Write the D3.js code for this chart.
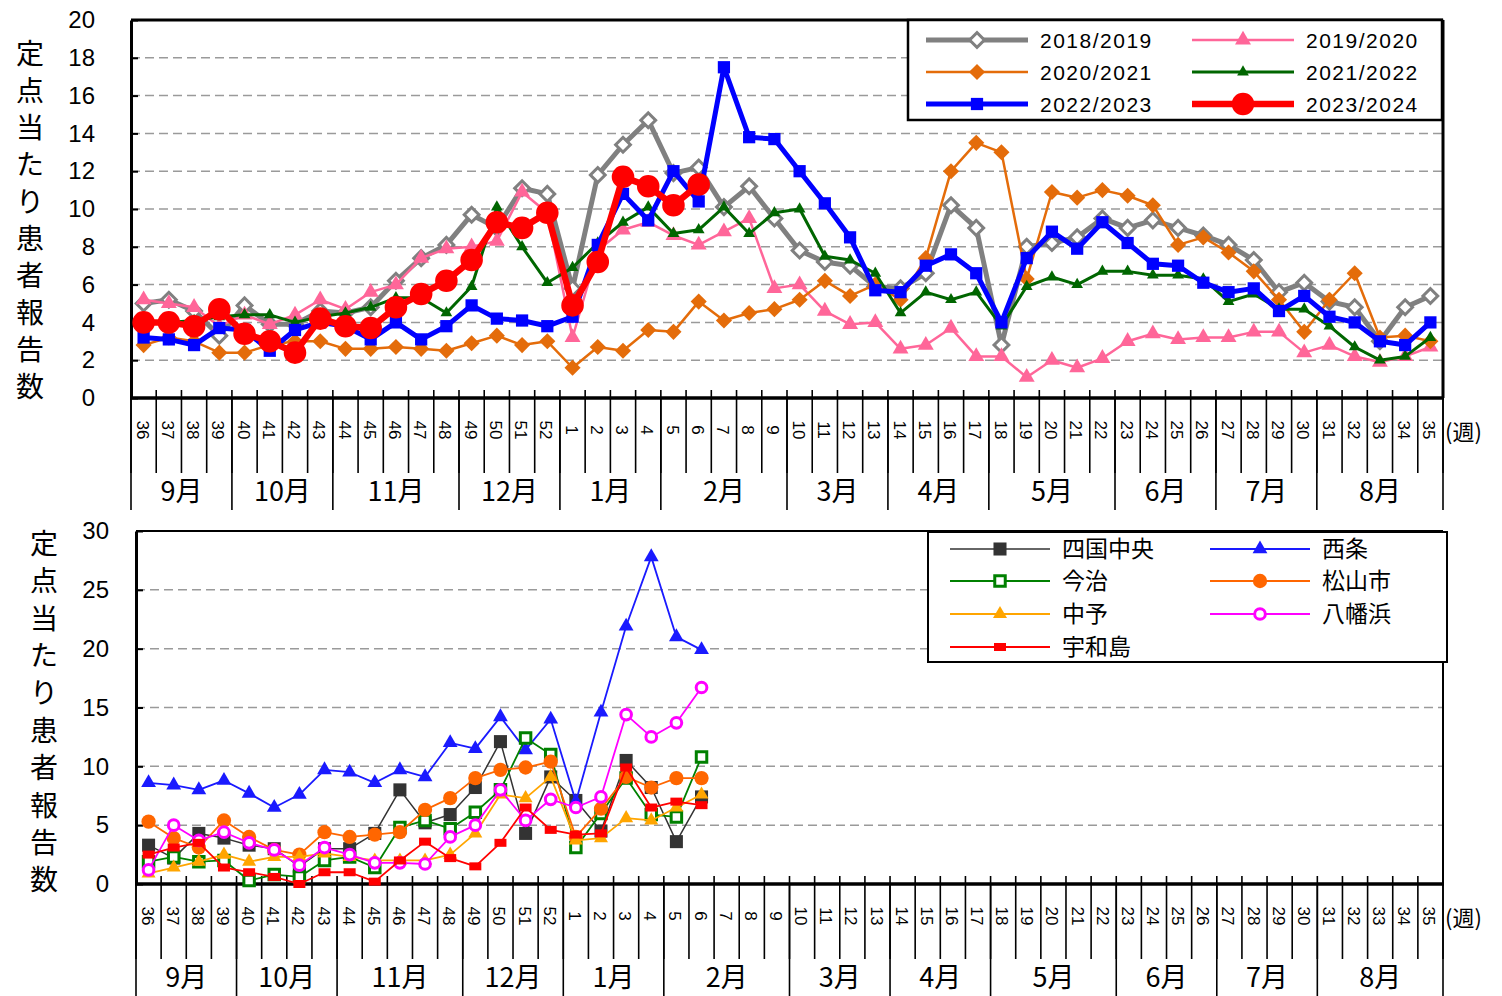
<!DOCTYPE html>
<html>
<head>
<meta charset="utf-8">
<title>定点当たり患者報告数</title>
<script src="https://cdnjs.cloudflare.com/ajax/libs/d3/7.8.5/d3.min.js"></script>
<style>
  body { margin: 0; background: #fff; }
  text { font-family: "Noto Sans CJK JP", "Noto Sans", sans-serif; fill: #000; }
</style>
</head>
<body>
<svg id="chart" width="1502" height="996"></svg>
<script>

// week categories of a season (36th week to 35th week of next year)
var weeks = [36,37,38,39,40,41,42,43,44,45,46,47,48,49,50,51,52,
             1,2,3,4,5,6,7,8,9,10,11,12,13,14,15,16,17,18,19,20,
             21,22,23,24,25,26,27,28,29,30,31,32,33,34,35];
var months = ['9月','10月','11月','12月','1月','2月','3月','4月','5月','6月','7月','8月'];
var monthWeeks = [4,4,5,4,4,5,4,4,5,4,4,5];

// upper chart : prefecture, by season
var seasons = ['2018/2019','2019/2020','2020/2021','2021/2022','2022/2023','2023/2024'];
var s2018 = [5.0,5.2,4.6,3.3,4.9,3.9,3.9,4.6,4.5,4.8,6.2,7.4,8.1,9.7,9.0,11.1,10.8,5.8,11.8,13.4,14.7,11.9,12.2,10.1,11.2,9.5,7.8,7.2,7.0,5.9,5.8,6.6,10.2,9.0,2.8,8.0,8.2,8.5,9.5,9.0,9.4,9.0,8.6,8.1,7.3,5.6,6.1,5.1,4.8,3.0,4.8,5.4];
var s2019 = [5.2,5.0,4.8,3.8,4.4,3.9,4.4,5.2,4.7,5.6,6.0,7.4,7.9,8.0,8.3,10.9,9.8,3.2,7.8,8.9,9.3,8.6,8.1,8.8,9.5,5.8,6.0,4.6,3.9,4.0,2.6,2.8,3.7,2.2,2.2,1.1,2.0,1.6,2.1,3.0,3.4,3.1,3.2,3.2,3.5,3.5,2.4,2.8,2.2,1.9,2.2,2.7];
var s2020 = [2.8,3.2,3.0,2.4,2.4,2.8,3.0,3.0,2.6,2.6,2.7,2.6,2.5,2.9,3.3,2.8,3.0,1.6,2.7,2.5,3.6,3.5,5.1,4.1,4.5,4.7,5.2,6.2,5.4,6.0,5.2,7.4,12.0,13.5,13.0,6.3,10.9,10.6,11.0,10.7,10.2,8.1,8.5,7.7,6.7,5.2,3.5,5.2,6.6,3.2,3.3,3.0];
var s2021 = [3.9,4.0,4.1,4.3,4.4,4.4,4.0,4.3,4.5,4.8,5.3,5.3,4.5,5.9,10.1,8.0,6.1,6.9,8.2,9.3,10.1,8.7,8.9,10.1,8.7,9.8,10.0,7.5,7.3,6.6,4.5,5.6,5.2,5.6,3.8,5.9,6.4,6.0,6.7,6.7,6.5,6.5,6.3,5.1,5.5,4.7,4.7,3.8,2.7,2.0,2.2,3.2];
var s2022 = [3.2,3.1,2.8,3.7,3.6,2.5,3.6,4.0,3.8,3.1,4.0,3.1,3.8,4.9,4.2,4.1,3.8,4.3,8.1,10.8,9.4,12.0,10.4,17.5,13.8,13.7,12.0,10.3,8.5,5.7,5.6,7.0,7.6,6.6,4.0,7.4,8.8,7.9,9.3,8.2,7.1,7.0,6.1,5.6,5.8,4.6,5.4,4.3,4.0,3.0,2.8,4.0];
var s2023 = [4.0,4.0,3.8,4.7,3.4,3.0,2.4,4.2,3.8,3.7,4.8,5.5,6.2,7.3,9.3,9.0,9.8,4.9,7.2,11.7,11.2,10.2,11.3];

// lower chart : health centre areas, current season
var areas = ['四国中央','西条','今治','松山市','中予','八幡浜','宇和島'];
var shikokuchuo = [3.3,2.2,4.3,3.9,3.3,3.0,1.5,3.0,3.0,4.3,8.0,5.2,5.9,8.2,12.1,4.3,9.1,7.1,4.5,10.5,8.2,3.6,7.4];
var saijo       = [8.6,8.4,8.0,8.8,7.7,6.5,7.6,9.7,9.5,8.6,9.7,9.1,12.0,11.5,14.2,11.4,14.0,7.0,14.6,21.9,27.8,21.0,19.9];
var imabari     = [1.9,2.3,1.9,2.0,0.3,0.8,0.6,2.0,2.3,1.4,4.8,5.4,4.7,6.1,8.0,12.4,11.0,3.1,6.0,9.0,5.9,5.7,10.8];
var matsuyama   = [5.3,3.9,3.1,5.4,4.0,2.9,2.5,4.4,4.0,4.2,4.4,6.3,7.3,9.0,9.7,9.9,10.4,4.0,6.4,9.1,8.2,9.0,9.0];
var chuyo       = [0.9,1.4,1.9,2.5,1.9,2.3,2.3,2.6,2.3,2.0,2.0,2.0,2.5,4.3,7.6,7.3,9.1,3.7,3.9,5.6,5.4,6.5,7.6];
var yawatahama  = [1.2,5.0,3.7,4.4,3.5,2.9,1.6,3.1,2.5,1.8,1.8,1.7,4.0,5.0,8.0,5.4,7.2,6.5,7.4,14.4,12.5,13.7,16.7];
var uwajima     = [2.5,3.1,3.5,1.4,1.0,0.6,0.0,1.0,1.0,0.2,2.0,3.6,2.2,1.5,3.5,6.5,4.6,4.2,4.3,9.9,6.5,7.0,6.7];

var yTitle = '定点当たり患者報告数';

var svg = d3.select('#chart');

// marker styles
var topStyles = [
  {color:'#808080', width:5,   mark:'diamond',  size:110, fill:'#fff', sw:3},
  {color:'#FF6699', width:2.5, mark:'triangle', size:110, fill:null},
  {color:'#E46C0A', width:2.5, mark:'diamond',  size:130, fill:null},
  {color:'#006600', width:3,   mark:'triangle', size:60,  fill:null},
  {color:'#0000FF', width:5,   mark:'square',   size:150, fill:null},
  {color:'#FF0000', width:6.5, mark:'circle',   size:400, fill:null}
];
var bottomStyles = [
  {color:'#333333', width:1.5, mark:'square',   size:170, fill:null},
  {color:'#1A1AFF', width:1.8, mark:'triangle', size:95,  fill:null},
  {color:'#008000', width:1.8, mark:'square',   size:110, fill:'#fff', sw:3},
  {color:'#FF6600', width:1.8, mark:'circle',   size:160, fill:null},
  {color:'#FFA500', width:1.8, mark:'triangle', size:85,  fill:null},
  {color:'#FF00FF', width:1.8, mark:'circle',   size:90,  fill:'#fff', sw:3},
  {color:'#FF0000', width:1.8, mark:'rect',     size:0,   fill:null}
];

function marker(g, st, x, y) {
  if (st.mark === 'rect') {
    g.append('rect').attr('x', x - 6).attr('y', y - 4).attr('width', 12).attr('height', 8)
      .attr('fill', st.color);
    return;
  }
  var type = {circle: d3.symbolCircle, square: d3.symbolSquare,
              diamond: d3.symbolSquare, triangle: d3.symbolTriangle}[st.mark];
  var rot = st.mark === 'diamond' ? ' rotate(45)' : '';
  g.append('path')
    .attr('d', d3.symbol().type(type).size(st.size)())
    .attr('transform', 'translate(' + x + ',' + y + ')' + rot)
    .attr('fill', st.fill || st.color)
    .attr('stroke', st.color)
    .attr('stroke-width', st.sw || 0);
}

function drawPanel(p) {
  var g = svg.append('g');
  var x = d3.scaleBand().domain(weeks).range([p.left, p.right]);
  var cx = function(i) { return x(weeks[i]) + x.bandwidth() / 2; };
  var y = d3.scaleLinear().domain([0, p.yMax]).range([p.bottom, p.top]);

  // dashed grid
  g.selectAll('line.grid')
    .data(d3.range(p.yStep, p.yMax, p.yStep))
    .enter().append('line')
      .attr('x1', p.left).attr('x2', p.right)
      .attr('y1', function(d) { return y(d); }).attr('y2', function(d) { return y(d); })
      .attr('stroke', '#9a9a9a').attr('stroke-width', 1.5)
      .attr('stroke-dasharray', '9,5');

  // frame top / right
  g.append('line').attr('x1', p.left).attr('x2', p.right).attr('y1', p.top).attr('y2', p.top)
    .attr('stroke', '#000').attr('stroke-width', p.frame);
  g.append('line').attr('x1', p.right).attr('x2', p.right).attr('y1', p.top).attr('y2', p.bottom)
    .attr('stroke', '#000').attr('stroke-width', p.frame);

  // y axis
  var yAxis = g.append('g')
    .attr('transform', 'translate(' + p.left + ',0)')
    .call(d3.axisLeft(y).tickValues(d3.range(0, p.yMax + 0.01, p.yStep))
      .tickSizeInner(-7).tickSizeOuter(0).tickPadding(p.labelPad));
  yAxis.select('.domain').attr('stroke-width', 3);
  yAxis.selectAll('.tick line').attr('stroke-width', 2);
  yAxis.selectAll('.tick text').attr('font-size', 24)
    .style('font-family', '"Liberation Sans", sans-serif');

  // x axis line
  g.append('line').attr('x1', p.left - 1).attr('x2', p.right + 1)
    .attr('y1', p.bottom).attr('y2', p.bottom)
    .attr('stroke', '#000').attr('stroke-width', 3.5);

  // week ticks (band boundaries)
  var bounds = weeks.map(function(w) { return x(w); }).concat([p.right]);
  g.selectAll('line.wk').data(bounds).enter().append('line')
    .attr('x1', function(d) { return d; }).attr('x2', function(d) { return d; })
    .attr('y1', p.bottom - 8).attr('y2', p.bottom + 75)
    .attr('stroke', '#000').attr('stroke-width', 1.6);

  // week labels
  g.selectAll('text.wk').data(weeks).enter().append('text')
    .attr('transform', function(d, i) { return 'translate(' + (cx(i) - 1) + ',' + (p.bottom + 32) + ') rotate(90)'; })
    .attr('text-anchor', 'middle').attr('dy', '0.35em')
    .attr('font-size', 17)
    .style('font-family', '"Liberation Sans", sans-serif')
    .text(function(d) { return d; });
  g.append('text').attr('x', p.right + 2).attr('y', p.bottom + 42)
    .attr('font-size', 22).text('(週)');

  // month separators and labels
  var mb = [0];
  monthWeeks.forEach(function(n) { mb.push(mb[mb.length - 1] + n); });
  var mx = function(k) { return k < weeks.length ? x(weeks[k]) : p.right; };
  g.selectAll('line.mo').data(mb).enter().append('line')
    .attr('x1', function(d) { return mx(d); }).attr('x2', function(d) { return mx(d); })
    .attr('y1', p.bottom).attr('y2', p.bottom + 112)
    .attr('stroke', '#000').attr('stroke-width', 1.6);
  g.selectAll('text.mo').data(months).enter().append('text')
    .attr('x', function(d, k) { return (mx(mb[k]) + mx(mb[k + 1])) / 2; })
    .attr('y', p.bottom + 103)
    .attr('text-anchor', 'middle').attr('font-size', 27)
    .text(function(d) { return d; });

  // y title, one upright character per line
  g.selectAll('text.yt').data(yTitle.split('')).enter().append('text')
    .attr('x', p.titleX).attr('y', function(d, i) { return p.titleY + i * p.titleStep; })
    .attr('text-anchor', 'middle').attr('dy', '0.35em')
    .attr('font-size', 28)
    .text(function(d) { return d; });

  // series
  var line = d3.line().x(function(d, i) { return cx(i); }).y(function(d) { return y(d); });
  p.series.forEach(function(vals, k) {
    var st = p.styles[k];
    var sg = g.append('g');
    sg.append('path').datum(vals).attr('d', line)
      .attr('fill', 'none').attr('stroke', st.color)
      .attr('stroke-width', st.width).attr('stroke-linejoin', 'round');
    vals.forEach(function(v, i) { marker(sg, st, cx(i), y(v)); });
  });

  // legend
  var L = p.legend;
  g.append('rect').attr('x', L.x).attr('y', L.y).attr('width', L.w).attr('height', L.h)
    .attr('fill', '#fff').attr('stroke', '#000').attr('stroke-width', L.sw);
  p.names.forEach(function(name, k) {
    var col = k % 2, row = Math.floor(k / 2);
    var lx = L.cols[col], ly = L.rows[row], st = p.styles[k];
    var lg = g.append('g');
    lg.append('line').attr('x1', lx).attr('x2', lx + L.len).attr('y1', ly).attr('y2', ly)
      .attr('stroke', st.color).attr('stroke-width', st.width);
    marker(lg, st, lx + L.len / 2, ly);
    lg.append('text').attr('x', lx + L.len + 12).attr('y', ly).attr('dy', '0.36em')
      .attr('font-size', L.font).attr('letter-spacing', L.ls)
      .style('font-family', L.family)
      .text(name);
  });
}

drawPanel({
  left: 131, right: 1443, top: 20, bottom: 398, yMax: 20, yStep: 2,
  labelPad: 36, frame: 3,
  titleX: 30, titleY: 54, titleStep: 37,
  series: [s2018, s2019, s2020, s2021, s2022, s2023],
  styles: topStyles, names: seasons,
  legend: {x: 908, y: 20, w: 534, h: 100, sw: 2.5, cols: [926, 1192], rows: [40, 72, 104],
           len: 102, font: 21, ls: 1.5, family: '"Liberation Sans", sans-serif'}
});

drawPanel({
  left: 136, right: 1443, top: 531, bottom: 884, yMax: 30, yStep: 5,
  labelPad: 27, frame: 2,
  titleX: 44, titleY: 544, titleStep: 37.4,
  series: [shikokuchuo, saijo, imabari, matsuyama, chuyo, yawatahama, uwajima],
  styles: bottomStyles, names: areas,
  legend: {x: 928, y: 532, w: 519, h: 130, sw: 2, cols: [950, 1210], rows: [549, 581, 614, 647],
           len: 100, font: 23, ls: 0, family: '"Noto Sans CJK JP", sans-serif'}
});

</script>
</body>
</html>
